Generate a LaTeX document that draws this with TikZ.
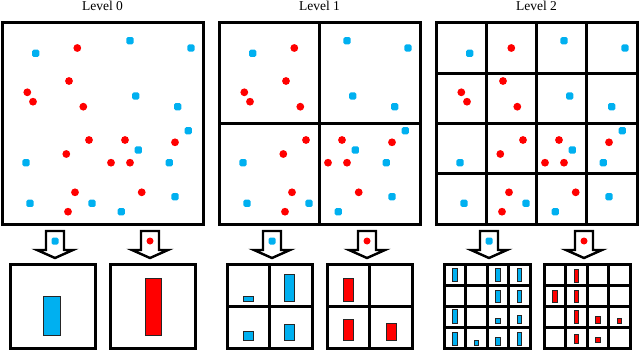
\documentclass[tikz,border=0pt]{standalone}
\usepackage{fontspec}
\setmainfont{Liberation Serif}
\definecolor{ptblue}{HTML}{00B0F0}
\definecolor{ptred}{HTML}{FF0000}
\begin{document}
\begin{tikzpicture}[x=1pt,y=-1pt,
  frame/.style={line width=3pt},
  title/.style={anchor=base,inner sep=0pt,font=\fontsize{13.5}{16}\selectfont},
  bsq/.style={fill=ptblue,rounded corners=1.5pt},
  rdot/.style={fill=ptred},
  bbar/.style={fill=ptblue,draw=black!85,line width=0.7pt},
  rbar/.style={fill=ptred,draw=black!85,line width=0.7pt},
  arrowline/.style={draw=black,fill=white,line width=2.4pt,line join=miter},
  downarrow/.pic={\path[arrowline] (-9,0) -- (9,0) -- (9,19) -- (18,19) -- (0,27) -- (-18,19) -- (-9,19) -- cycle;}
]
\useasboundingbox (0,0) rectangle (640,350);

% titles
\node[title] (t0) at (102.5,11) {Level 0};
\node[title] (t1) at (319.5,11) {Level 1};
\node[title] (t2) at (536.5,11) {Level 2};

% points in the three panels
\foreach \s in {0,217,434}{
  \begin{scope}[xshift=\s pt]
    \foreach \x/\y in {35.7/53.3,130/40.7,191/48,135.7/96,177.7/106.7,188.3/130.7,138.3/150,26/162.7,169.3/162.7,175/196.7,30/203.3,92/203.3,121.3/211.7}
      \fill[bsq] (\x-3.6,\y-3.6) rectangle (\x+3.6,\y+3.6);
    \foreach \x/\y in {77.3/48,69/81,27.3/92.3,33/101.7,83.3/106.7,89/140,125/140,175/142.3,66.3/154,111/162.7,130/162.7,75/192.3,141.7/192.3,68/211.7}
      \fill[rdot] (\x,\y) circle[radius=3.9pt];
  \end{scope}
}

% panel frames
\draw[frame] (2,23) rectangle (203,224);
\draw[frame] (219,23) rectangle (420,224);
\draw[frame] (319.5,23) -- (319.5,224);
\draw[frame] (219,123.5) -- (420,123.5);
\draw[frame] (436,23) rectangle (637,224);
\foreach \k in {1,2,3}{
  \draw[frame] (436+50.25*\k,23) -- (436+50.25*\k,224);
  \draw[frame] (436,23+50.25*\k) -- (637,23+50.25*\k);
}

% arrows with markers
\foreach \s in {0,217,434}{
  \begin{scope}[xshift=\s pt]
    \pic at (55,231) {downarrow};
    \fill[bsq] (51.5,237.5) rectangle (58.5,244.5);
    \pic at (150,231) {downarrow};
    \fill[rdot] (150,241) circle[radius=3.5pt];
  \end{scope}
}

% bottom boxes: level 0
\draw[frame] (10,264.5) rectangle (95,348.5);
\draw[frame] (110,264.5) rectangle (195,348.5);
\draw[bbar] (43,296) rectangle (60,335);
\draw[rbar] (145,278) rectangle (161,335);

% bottom boxes: level 1
\draw[frame] (227,264.5) rectangle (312,348.5);
\draw[frame] (269.5,264.5) -- (269.5,348.5);
\draw[frame] (227,306.5) -- (312,306.5);
\draw[frame] (327,264.5) rectangle (412,348.5);
\draw[frame] (369.5,264.5) -- (369.5,348.5);
\draw[frame] (327,306.5) -- (412,306.5);
\draw[bbar] (243,296) rectangle (253,301);
\draw[bbar] (284,274) rectangle (294,301);
\draw[bbar] (243,331) rectangle (253,340);
\draw[bbar] (284,324) rectangle (294,340);
\draw[rbar] (343,278) rectangle (353,301);
\draw[rbar] (343,319) rectangle (353,340);
\draw[rbar] (386,323) rectangle (396,340);

% bottom boxes: level 2
\draw[frame] (444,264.5) rectangle (530,348.5);
\draw[frame] (544,264.5) rectangle (630,348.5);
\foreach \k in {1,2,3}{
  \draw[frame] (444+21.5*\k,264.5) -- (444+21.5*\k,348.5);
  \draw[frame] (444,264.5+21*\k) -- (530,264.5+21*\k);
  \draw[frame] (544+21.5*\k,264.5) -- (544+21.5*\k,348.5);
  \draw[frame] (544,264.5+21*\k) -- (630,264.5+21*\k);
}
\foreach \x/\t/\b in {454.75/268/281,497.75/268/281,519.25/268/281,
  497.75/290/302,519.25/290/302,
  454.75/309/323,497.75/318/323,519.25/315/323,
  454.75/332/345,476.25/340/345,497.75/337/345,519.25/332/345}
  \draw[bbar] (\x-2.2,\t) rectangle (\x+2.2,\b);
\foreach \x/\t/\b in {576.25/269/282,
  554.75/290/302,576.25/290/302,
  576.25/310/323,597.75/316/323.5,619.25/318/323.5,
  576.25/334/343,597.75/337/342}
  \draw[rbar] (\x-2.2,\t) rectangle (\x+2.2,\b);
\end{tikzpicture}
\end{document}
